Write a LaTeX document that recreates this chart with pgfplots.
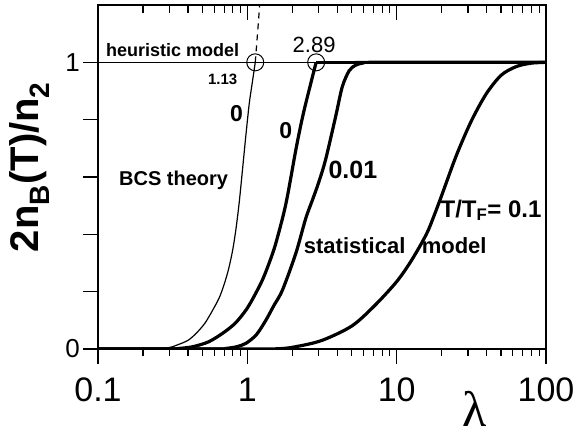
\documentclass[border=0pt]{standalone}
\usepackage{fontspec}
\setmainfont{Liberation Sans}
\newfontfamily\serif{Liberation Serif}
\usepackage{pgfplots}
\pgfplotsset{compat=1.18}

\newcommand\fs[1]{\fontsize{#1bp}{#1bp}\selectfont}

\tikzset{
  thinline/.style={black, line width=1.2bp},
  thickline/.style={black, line width=3.2bp},
}

\begin{document}
\begin{tikzpicture}
\path[use as bounding box] (-98bp,-96bp) rectangle (480bp,349bp);

% top ticks point inwards
\begin{axis}[
  xmode=log, xmin=0.1, xmax=100, ymin=0, ymax=1.2,
  scale only axis, width=448bp, height=344bp,
  at={(0,0)}, anchor=south west,
  axis line style={line width=1.5bp},
  tick style={line width=1.2bp, black},
  xtick pos=top, tick align=inside, ytick=\empty,
  xtick={0.1,1,10,100}, xticklabels={},
  major tick length=15bp, minor tick length=8bp,
]
\end{axis}

\begin{axis}[
  xmode=log, xmin=0.1, xmax=100, ymin=0, ymax=1.2,
  scale only axis, width=448bp, height=344bp,
  at={(0,0)}, anchor=south west,
  axis line style={line width=1.5bp},
  tick style={line width=1.2bp, black},
  xtick pos=bottom, ytick pos=left, tick align=outside,
  major tick length=15bp, minor tick length=7bp,
  xtick={0.1,1,10,100}, xticklabels={0.1,1,10,100},
  ytick={0,0.2,0.4,0.6,0.8,1}, yticklabels={0,,,,,1},
  xticklabel style={font=\fs{34}, inner sep=0pt, anchor=north, yshift=-14bp},
  yticklabel style={font=\fs{26}, inner sep=0pt, anchor=east, xshift=-3bp},
]
\coordinate (yl) at (rel axis cs:0,0.529);
\coordinate (xl) at (rel axis cs:0.8415,0);

% unity line
\addplot[thinline, line width=1bp] coordinates {(0.1,1) (100,1)};

% BCS theory
\addplot[thinline, smooth] coordinates {
  (0.1,0) (0.2,0) (0.25,0.001) (0.3,0.005) (0.335,0.013) (0.4,0.03)
  (0.455,0.055) (0.52,0.09) (0.587,0.136) (0.65,0.18) (0.703,0.229)
  (0.75,0.28) (0.798,0.345) (0.84,0.42) (0.884,0.515) (0.93,0.63)
  (0.98,0.75) (1.03,0.856) (1.08,0.93) (1.13,1.0)};
% heuristic model
\addplot[thinline, dash pattern=on 6bp off 5bp] coordinates {
  (1.13,1) (1.17,1.1) (1.21,1.2)};

% statistical model, T/TF = 0
\addplot[thickline, smooth] coordinates {
  (0.1,0) (0.3,0) (0.35,0.002) (0.432,0.008) (0.55,0.025) (0.684,0.055)
  (0.83,0.09) (0.98,0.136) (1.1,0.18) (1.26,0.24) (1.4,0.3) (1.55,0.368)
  (1.81,0.505) (2.11,0.693) (2.3,0.79) (2.46,0.856) (2.7,0.94) (2.89,1.0)};
\addplot[thickline] coordinates {(2.89,1) (100,1)};

% T/TF = 0.01
\addplot[thickline, smooth] coordinates {
  (0.1,0) (0.6,0) (0.72,0.002) (0.85,0.008) (0.98,0.02) (1.15,0.05)
  (1.33,0.10) (1.5,0.15) (1.72,0.206) (2.11,0.333) (2.46,0.455)
  (2.73,0.52) (3.0,0.58) (3.34,0.66) (3.9,0.81) (4.32,0.914) (4.8,0.97)
  (5.3,0.99) (6,0.998) (7,1) (100,1)};

% T/TF = 0.1
\addplot[thickline, smooth] coordinates {
  (0.1,0) (1,0) (1.63,0.001) (2.11,0.008) (3.16,0.03) (5.0,0.08)
  (7.08,0.15) (10,0.235) (12.6,0.31) (15.8,0.40) (17.8,0.465) (20,0.535)
  (25.1,0.675) (31.6,0.795) (39.8,0.89) (50.1,0.955) (63.1,0.985)
  (79.4,0.997) (100,1)};

% critical points
\addplot[only marks, mark=o, mark size=8.5bp, mark options={line width=1bp}]
  coordinates {(1.13,1) (2.89,1)};

\node[font=\bfseries\fs{18}, anchor=east, inner sep=0pt] at (axis cs:0.885,1.042) {heuristic model};
\node[font=\bfseries\fs{15}, anchor=east, inner sep=0pt] at (axis cs:0.858,0.941) {1.13};
\node[font=\fs{22}, inner sep=0pt] at (axis cs:2.80,1.059) {2.89};
\node[font=\bfseries\fs{23}, inner sep=0pt] at (axis cs:0.845,0.822) {0};
\node[font=\bfseries\fs{23}, inner sep=0pt] at (axis cs:1.81,0.763) {0};
\node[font=\bfseries\fs{25}, inner sep=0pt] at (axis cs:5.09,0.624) {0.01};
\node[font=\bfseries\fs{20}, inner sep=0pt] at (axis cs:0.321,0.589) {BCS theory};
\node[font=\bfseries\fs{22}, anchor=east, inner sep=0pt] at (axis cs:11.48,0.362) {statistical};
\node[font=\bfseries\fs{22}, anchor=west, inner sep=0pt] at (axis cs:14.68,0.362) {model};
\node[font=\bfseries\fs{24}, anchor=west, inner sep=0pt] at (axis cs:19.65,0.484) {T/T\textsubscript{F}= 0.1};
\end{axis}

\node[rotate=90, font=\bfseries\fs{40}, inner sep=0pt] at ([xshift=-68bp]yl) {2n\textsubscript{B}(T)/n\textsubscript{2}};
\node[font=\serif\fs{50}, inner sep=0pt, anchor=center] at ([yshift=-60bp]xl) {λ};
\end{tikzpicture}
\end{document}
